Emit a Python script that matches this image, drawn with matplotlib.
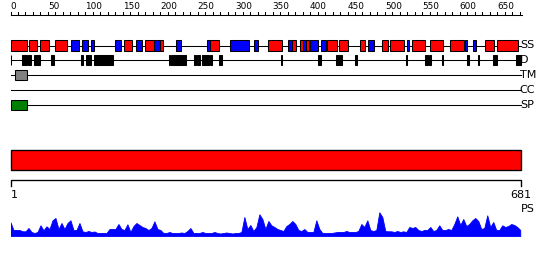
import numpy as np
import matplotlib
matplotlib.use('Agg')
import matplotlib.pyplot as plt
from matplotlib.patches import Rectangle

seq_len = 681

# secondary structure: (start, end, type) H = helix (red), E = strand (blue)
ss_segments = [
	(1, 22, 'H'), (25, 35, 'H'), (40, 51, 'H'), (60, 76, 'H'),
	(81, 91, 'E'), (96, 103, 'E'), (107, 111, 'E'), (139, 147, 'E'),
	(151, 162, 'H'), (168, 176, 'E'), (179, 192, 'H'), (192, 200, 'E'),
	(200, 203, 'H'), (221, 227, 'E'), (263, 266, 'E'), (266, 278, 'H'),
	(293, 318, 'E'), (325, 330, 'E'), (344, 362, 'H'), (370, 376, 'E'),
	(376, 381, 'H'), (386, 391, 'H'), (391, 395, 'E'), (395, 399, 'H'),
	(400, 410, 'E'), (415, 421, 'E'), (423, 436, 'H'), (439, 450, 'H'),
	(467, 474, 'H'), (478, 485, 'E'), (496, 504, 'H'), (507, 526, 'H'),
	(529, 532, 'E'), (536, 553, 'H'), (560, 577, 'H'), (587, 605, 'H'),
	(607, 609, 'E'), (617, 622, 'E'), (634, 645, 'H'), (650, 677, 'H'),
]

# disordered regions
dis_segments = [
	(0, 1), (16, 22), (24, 28), (32, 40), (54, 58), (94, 97), (101, 108),
	(111, 137), (211, 213), (214, 234), (245, 248), (249, 253), (256, 265),
	(266, 269), (278, 282), (361, 363), (411, 414), (435, 442), (460, 463),
	(528, 529), (554, 557), (559, 561), (576, 578), (609, 612), (624, 625),
	(644, 650), (675, 681),
]

tm_segments = [(6, 22)]
cc_segments = []
sp_segments = [(0, 22)]

track_names = ['SS', 'D', 'TM', 'CC', 'SP']

# PS profile, one value every 4 residues
ps_step = 4
ps_values = [
	13.7, 6, 6, 6, 4.7, 4.7, 8, 4, 3, 4, 10.7, 5.7, 9.7, 7, 15.7, 18, 7, 13, 7, 13,
	15.7, 6, 6, 13, 4.7, 4, 5, 4, 4.5, 3, 3, 3, 3, 7, 7, 7, 12, 7, 6, 11.7,
	4, 10, 13, 11, 9, 8, 6, 8, 14.7, 7, 6, 3, 3, 4, 3, 3, 3, 3.5, 3, 5,
	8, 3, 3, 3, 4, 3, 3, 3, 4, 3, 2.5, 3, 3.5, 3, 2.5, 3, 3, 4, 19, 7,
	11, 5, 9, 21.7, 17, 7, 15, 10.7, 9, 7, 6, 5, 10, 12, 15, 12, 6, 5, 7, 4,
	4, 4, 15.7, 7, 3, 3, 3, 3, 3.5, 4, 4, 4, 5, 4, 4, 4, 5, 12, 9, 15.7,
	6, 5, 6, 23.7, 19, 5, 4.7, 4.7, 4, 5, 4, 4.7, 4, 9, 8, 9, 6, 5, 6, 6,
	9, 5, 6, 10.7, 6, 6, 7, 6, 12, 19.7, 11, 17, 10, 12, 15.7, 18, 15, 7, 8, 20.7,
	9, 14, 6, 6, 10.7, 9, 10, 12, 11, 9, 6,
]

W, H = 550, 260
x0_px, x1_px = 10.5, 520.5
px_per_res = (x1_px - x0_px) / seq_len

fig = plt.figure(figsize=(W / 100, H / 100), dpi=100)
ax = fig.add_axes([0, 0, 1, 1])
ax.set_xlim(-x0_px / px_per_res, (W - x0_px) / px_per_res)
ax.set_ylim(H, 0)
ax.axis('off')

lw = 0.75
colors = {'H': '#ff0000', 'E': '#0000ff'}

# top ruler
ruler_y = 15
ax.plot([0, seq_len + 2], [ruler_y, ruler_y], color='black', lw=lw)
for t in range(0, seq_len, 10):
	ax.plot([t, t], [ruler_y, ruler_y - 3.5], color='black', lw=lw)
	if t % 50 == 0:
		ax.text(t, ruler_y - 4, str(t), ha='left', va='bottom', fontsize=6.4)

# feature tracks
track_y = [45.5, 60.3, 75, 90, 105]
box_h = 10.3
for name, y in zip(track_names, track_y):
	ax.plot([0, seq_len], [y, y], color='black', lw=lw, zorder=1)
	ax.text(seq_len - 1, y, name, ha='left', va='center', fontsize=8)

for s, e, kind in ss_segments:
	ax.add_patch(Rectangle((s, track_y[0] - box_h / 2), e - s, box_h,
						   facecolor=colors[kind], edgecolor='black', lw=lw, zorder=2))
for s, e in dis_segments:
	ax.add_patch(Rectangle((s, track_y[1] - box_h / 2), e - s, box_h,
						   facecolor='black', edgecolor='black', lw=lw, zorder=2))
for s, e in tm_segments:
	ax.add_patch(Rectangle((s, track_y[2] - box_h / 2), e - s, box_h,
						   facecolor='#808080', edgecolor='black', lw=lw, zorder=2))
for s, e in cc_segments:
	ax.add_patch(Rectangle((s, track_y[3] - box_h / 2), e - s, box_h,
						   facecolor='#ffa500', edgecolor='black', lw=lw, zorder=2))
for s, e in sp_segments:
	ax.add_patch(Rectangle((s, track_y[4] - box_h / 2), e - s, box_h,
						   facecolor='#008000', edgecolor='black', lw=lw, zorder=2))

# full length bar
ax.add_patch(Rectangle((0, 150), seq_len, 20.3, facecolor='#ff0000',
					   edgecolor='black', lw=lw * 1.3))

# bottom ruler
ax.plot([0, 0, seq_len, seq_len], [185.5, 180.3, 180.3, 185.5], color='black', lw=lw * 1.3)
ax.text(0, 189.5, '1', ha='left', va='top', fontsize=8)
ax.text(seq_len, 189.5, str(seq_len), ha='center', va='top', fontsize=8)
ax.text(seq_len + 1, 204, 'PS', ha='left', va='top', fontsize=8)

# PS profile
ps_ax = fig.add_axes([x0_px / W, (H - 236) / H, (x1_px - x0_px + 2) / W, 25 / H])
ps_x = np.arange(len(ps_values)) * ps_step
ps_ax.fill_between(ps_x, 0, ps_values, color='#0000ff', lw=0.6, edgecolor='#0000ff')
ps_ax.set_xlim(0, seq_len + 2)
ps_ax.set_ylim(0, 25)
ps_ax.axis('off')

fig.savefig('out.png', dpi=100)
